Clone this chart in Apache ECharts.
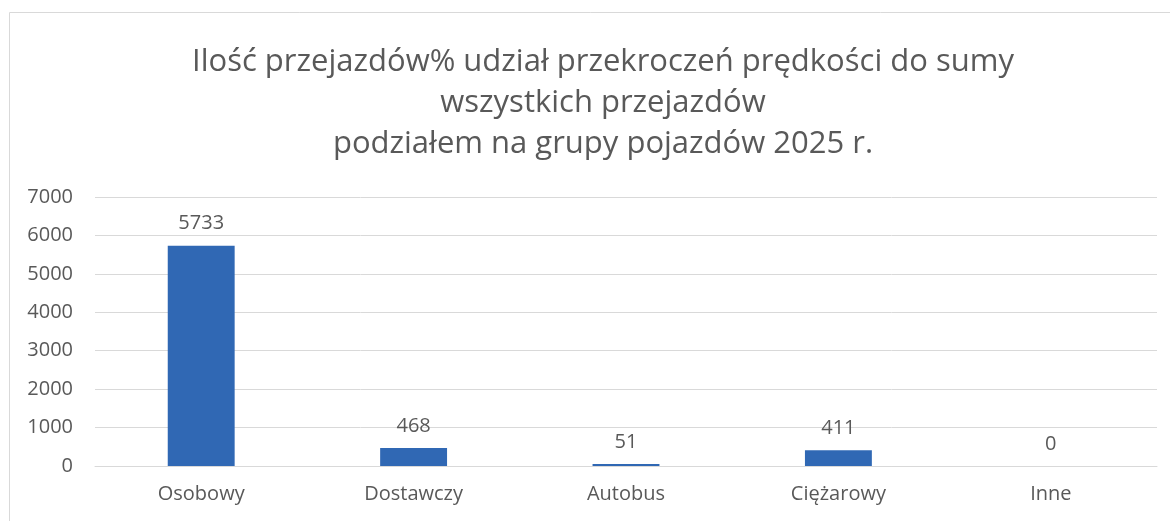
<!DOCTYPE html>
<html>
<head>
<meta charset="utf-8">
<script src="https://cdn.jsdelivr.net/npm/echarts@6/dist/echarts.min.js"></script>
<style>
  html, body { margin: 0; padding: 0; background: #fff; }
  #chart { width: 1170px; height: 521px; }
</style>
</head>
<body>
<div id="chart"></div>
<script>
const titleLines = [
  "Ilość przejazdów% udział przekroczeń prędkości do sumy",
  "wszystkich przejazdów",
  "podziałem na grupy pojazdów 2025 r."
];
const categories = ["Osobowy", "Dostawczy", "Autobus", "Ciężarowy", "Inne"];
const values = [5733, 468, 51, 411, 0];
const yTicks = [0, 1000, 2000, 3000, 4000, 5000, 6000, 7000];

const font = "'Open Sans', 'Noto Sans', sans-serif";
const textColor = "#595959";
const lineColor = "#d9d9d9";

const mychart = echarts.init(document.getElementById("chart"));
const option = {
  animation: false,
  graphic: [
    {
      type: "rect",
      shape: { x: 9.5, y: 12.5, width: 1300, height: 700 },
      style: { fill: "none", stroke: lineColor, lineWidth: 1 },
      z: -1
    }
  ],
  title: {
    text: titleLines.join("\n"),
    left: 598,
    textAlign: "center",
    top: 37,
    textStyle: {
      fontFamily: font,
      fontSize: 31,
      fontWeight: "normal",
      color: textColor,
      lineHeight: 41
    }
  },
  grid: {
    left: 95,
    right: 13,
    top: 197,
    bottom: 55
  },
  xAxis: {
    type: "category",
    data: categories,
    axisLine: { show: true, lineStyle: { color: lineColor, width: 1 } },
    axisTick: { show: false },
    axisLabel: {
      margin: 18,
      fontFamily: font,
      fontSize: 20,
      color: textColor
    }
  },
  yAxis: {
    type: "value",
    min: yTicks[0],
    max: yTicks[yTicks.length - 1],
    interval: 1000,
    axisLine: { show: false },
    axisTick: { show: false },
    splitLine: { lineStyle: { color: lineColor, width: 1 } },
    axisLabel: {
      margin: 22,
      fontFamily: font,
      fontSize: 20,
      color: textColor,
      formatter: (v) => String(v)
    }
  },
  series: [
    {
      type: "bar",
      data: values,
      barWidth: "31.5%",
      itemStyle: { color: "#3068b4" },
      label: {
        show: true,
        position: "top",
        distance: 12,
        fontFamily: font,
        fontSize: 20,
        color: textColor
      }
    }
  ]
};
mychart.setOption(option);
</script>
</body>
</html>
